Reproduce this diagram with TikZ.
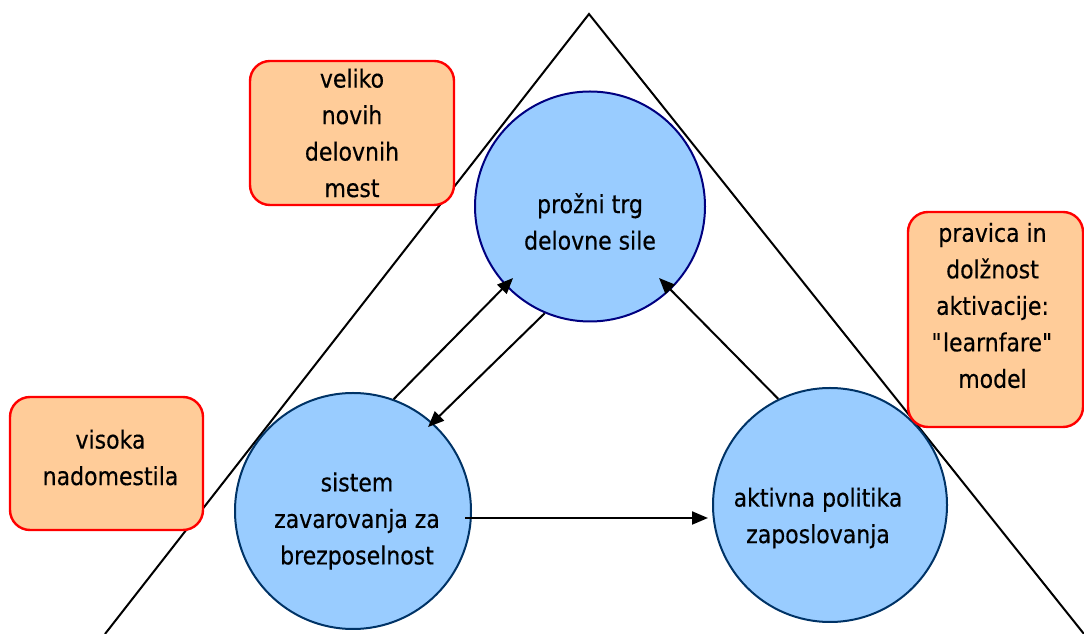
\documentclass[tikz,border=0pt]{standalone}
\usepackage{fontspec}
\setmainfont{DejaVu Sans}[FakeStretch=0.88, FakeBold=0.4]
\usetikzlibrary{arrows.meta,calc}
\definecolor{cfill}{HTML}{99CCFF}
\definecolor{cnavy}{HTML}{000080}
\definecolor{cdark}{HTML}{003366}
\definecolor{bfill}{HTML}{FFCC99}
\definecolor{bred}{HTML}{FF0000}
\begin{document}
\begin{tikzpicture}[x=1pt,y=1pt,
  every node/.style={font=\fontsize{25}{36.5}\selectfont, align=center},
  circ/.style={circle, fill=cfill, draw=#1, line width=2pt, inner sep=0pt},
  box/.style={rectangle, rounded corners=20pt, fill=bfill, draw=bred, line width=2.4pt, inner sep=0pt},
  txt/.style={inner sep=0pt},
  arr/.style={-{Triangle[length=16pt,width=13pt]}, line width=2pt},
  tri/.style={line width=2pt}]
\useasboundingbox (0,0) rectangle (1084,634);
% triangle
\coordinate (apex) at (589,620);
\coordinate (bl) at (105,0);
\coordinate (br) at (1084,0);
\draw[tri] (bl) -- (apex) -- (br);
% circles
\node[circ=cnavy, minimum size=230pt] (top) at (590,427.5) {};
\node[circ=cdark, minimum size=236pt] (left) at (353,123) {};
\node[circ=cdark, minimum size=234pt] (right) at (830,129) {};
\node[txt] (ttop) at ($(top.center)+(0,-15)$) {prožni trg\\delovne sile};
\node[txt] (tleft) at ($(left.center)+(4,-10)$) {sistem\\zavarovanja za\\brezposelnost};
\node[txt] (tright) at ($(right.center)+(-12,-13)$) {aktivna politika\\zaposlovanja};
% boxes
\node[box, minimum width=204pt, minimum height=144pt] (b1) at (352,501) {};
\node[txt] at ($(b1.center)+(0,0)$) {veliko\\novih\\delovnih\\mest};
\node[box, minimum width=175pt, minimum height=215pt] (b2) at (995.5,314.5) {};
\node[txt] at ($(b2.center)+(-3,14)$) {pravica in\\dolžnost\\aktivacije:\\\textquotedbl learnfare\textquotedbl\\model};
\node[box, minimum width=193pt, minimum height=133pt] (b3) at (106.5,170.5) {};
\node[txt] at ($(b3.center)+(4,6)$) {visoka\\nadomestila};
% arrows
\draw[arr] (left.70.5) -- ($(top.center)+(222.9:105)$);
\draw[arr] (top.247) -- ($(left.center)+(48.2:112.6)$);
\draw[arr] (right.116) -- ($(top.center)+(314:99.4)$);
\draw[arr] ($(left.center)+(112,-7)$) -- ($(right.center)+(-122,-13)$);
\end{tikzpicture}
\end{document}
